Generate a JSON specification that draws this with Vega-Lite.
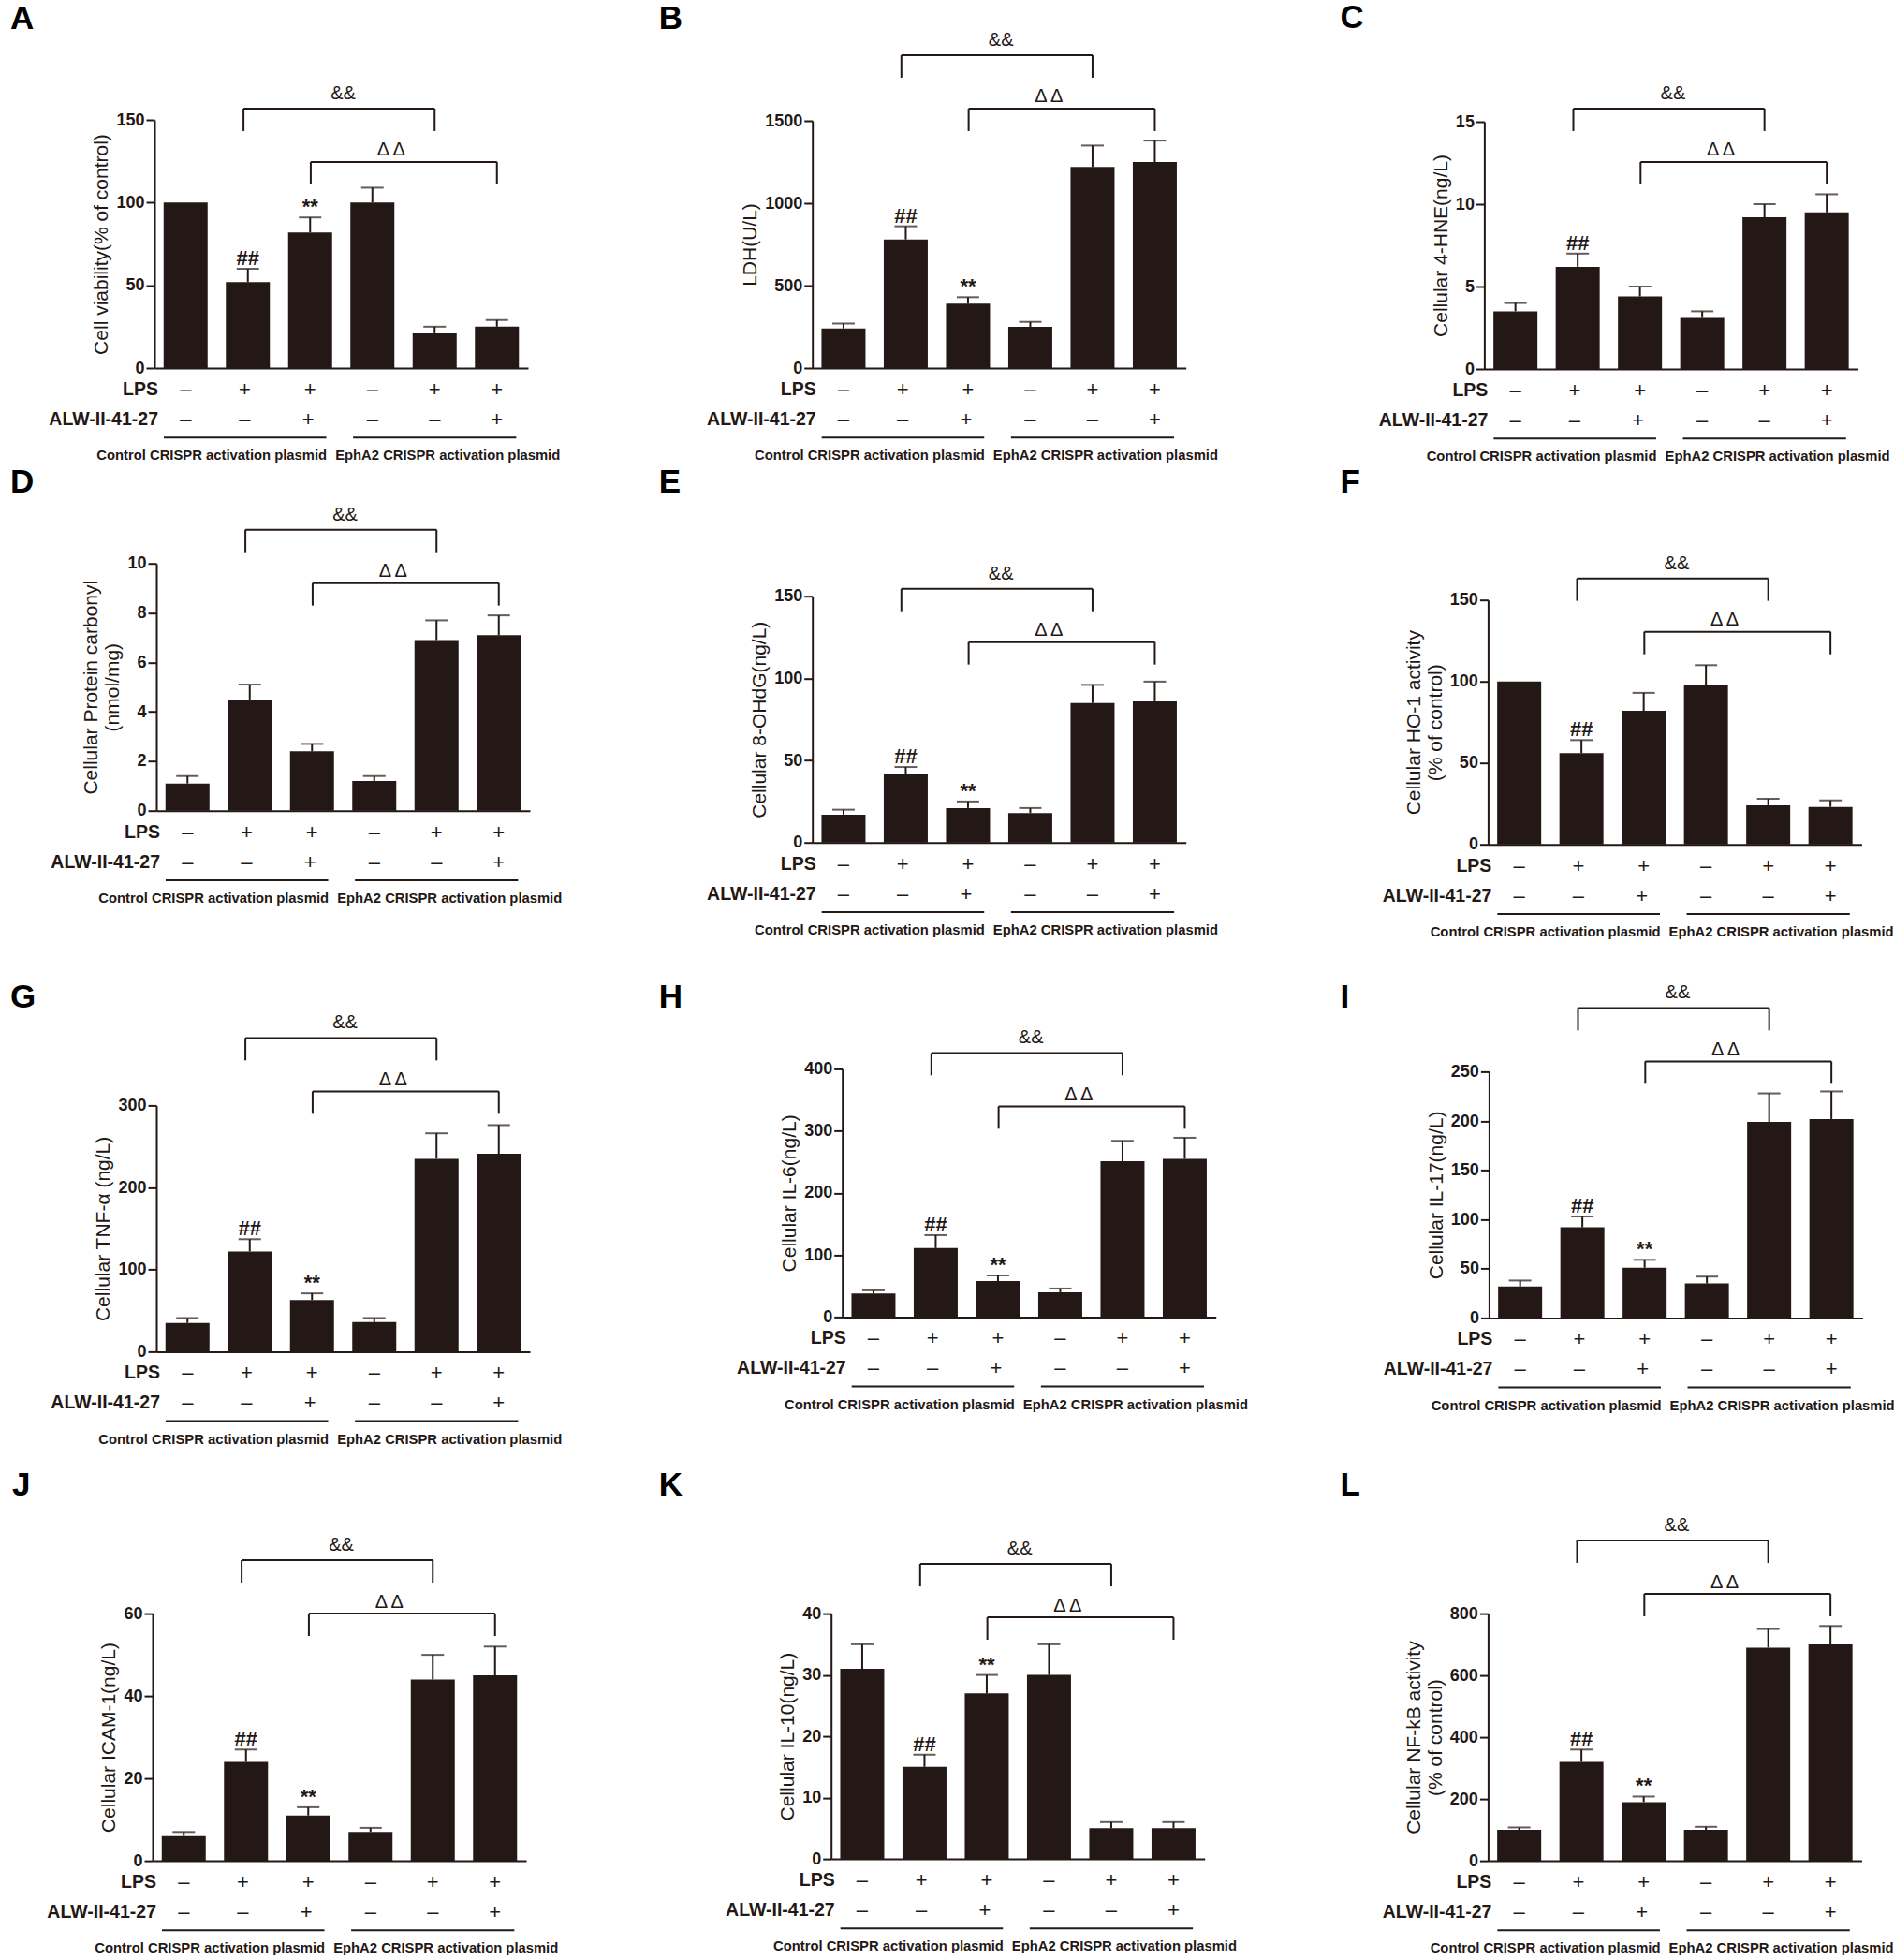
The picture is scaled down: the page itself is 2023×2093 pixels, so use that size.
{"$schema":"https://vega.github.io/schema/vega-lite/v6.json","padding":0,"background":"white","columns":3,"spacing":{"row":1.7,"column":2.7},"bounds":"flush",
"config":{"view":{"stroke":null},"axis":{"grid":false,"domainColor":"#231815","domainWidth":2,"tickColor":"#231815","tickWidth":2,"tickSize":9,"labelFont":"Liberation Sans","labelFontSize":18,"labelFontWeight":"bold","labelColor":"#231815","labelPadding":2,"titleFont":"Liberation Sans","titleFontSize":21,"titleFontWeight":"normal","titleColor":"#231815","titlePadding":5},"title":{"anchor":"start","frame":"group","font":"Liberation Sans","fontSize":35,"fontWeight":"bold","baseline":"middle","offset":0,"color":"#000000"},"bar":{"size":47,"color":"#231815"},"rule":{"color":"#231815","strokeWidth":2},"tick":{"color":"#231815","thickness":2,"size":24},"text":{"font":"Liberation Sans","color":"#231815"}},
"datasets":{
"signs":[{"g":1,"row":1,"t":"–"},{"g":1.95,"row":1,"t":"+"},{"g":3,"row":1,"t":"+"},{"g":4,"row":1,"t":"–"},{"g":5,"row":1,"t":"+"},{"g":6,"row":1,"t":"+"},{"g":1,"row":2,"t":"–"},{"g":1.95,"row":2,"t":"–"},{"g":2.97,"row":2,"t":"+"},{"g":4,"row":2,"t":"–"},{"g":5,"row":2,"t":"–"},{"g":6,"row":2,"t":"+"}],
"labels":[{"g":0.56,"row":1,"t":"LPS"},{"g":0.56,"row":2,"t":"ALW-II-41-27"}],
"plasmids":[{"g":1.42,"row":3.23,"t":"Control CRISPR activation plasmid"},{"g":5.21,"row":3.23,"t":"EphA2 CRISPR activation plasmid"}],
"lines":[{"g":0.65,"g2":3.26,"row":2.6},{"g":3.69,"g2":6.31,"row":2.6}],
"segs":[{"g":1.93,"g2":5,"l":0,"l2":0},{"g":1.93,"g2":1.93,"l":0,"l2":0.42},{"g":5,"g2":5,"l":0,"l2":0.42},{"g":3.01,"g2":6,"l":1,"l2":1},{"g":3.01,"g2":3.01,"l":1,"l2":1.42},{"g":6,"g2":6,"l":1,"l2":1.42}],
"brl":[{"g":3.53,"l":-0.28,"t":"&&"},{"g":4.3,"l":0.78,"t":"Δ Δ"}]
},
"concat":[
{"title":{"text":"A","dx":11,"dy":42},"width":674,"height":523,"data":{"values":[{"g":1,"v":100},{"g":2,"v":52,"e":60,"s":"##"},{"g":3,"v":82,"e":91,"s":"**"},{"g":4,"v":100,"e":109},{"g":5,"v":21,"e":25},{"g":6,"v":25,"e":29}]},"encoding":{"x":{"field":"g","type":"quantitative","title":null,"scale":{"domain":[0.5,6.5],"range":[165,564],"nice":false,"padding":0},"axis":{"offset":-130,"labels":false,"ticks":false,"title":null}}},"layer":[{"encoding":{"y":{"field":"v","type":"quantitative","scale":{"domain":[0,150],"range":[393,128],"nice":false},"axis":{"title":"Cell viability(% of control)","values":[0,50,100,150],"offset":-165,"orient":"left"}}},"layer":[{"mark":{"type":"bar","orient":"vertical"}},{"mark":"rule","encoding":{"y":{"field":"e"},"y2":{"field":"v"}}},{"mark":{"type":"tick","orient":"horizontal"},"encoding":{"y":{"field":"e"}}},{"transform":[{"filter":"datum.s"}],"mark":{"type":"text","baseline":"bottom","dy":1,"fontSize":22,"fontWeight":"bold"},"encoding":{"y":{"field":"e"},"text":{"field":"s"}}}]},{"encoding":{"y":{"field":"row","type":"quantitative","scale":{"domain":[0,4],"range":[384,512],"nice":false},"axis":null},"text":{"field":"t"}},"layer":[{"data":{"name":"signs"},"mark":{"type":"text","fontSize":22}},{"data":{"name":"labels"},"mark":{"type":"text","align":"right","fontSize":19.5,"fontWeight":"bold"}},{"data":{"name":"plasmids"},"mark":{"type":"text","fontSize":14.8,"fontWeight":"bold"}},{"data":{"name":"lines"},"mark":"rule","encoding":{"x2":{"field":"g2"},"text":null}}]},{"encoding":{"y":{"field":"l","type":"quantitative","scale":{"domain":[0,1],"range":[116,173],"nice":false},"axis":null}},"layer":[{"data":{"name":"segs"},"mark":"rule","encoding":{"x2":{"field":"g2"},"y2":{"field":"l2"}}},{"data":{"name":"brl"},"mark":{"type":"text","fontSize":20},"encoding":{"text":{"field":"t"}}}]}],"resolve":{"scale":{"y":"independent"}}},
{"title":{"text":"B","dx":27,"dy":42},"width":674,"height":523,"data":{"values":[{"g":1,"v":240,"e":270},{"g":2,"v":780,"e":860,"s":"##"},{"g":3,"v":390,"e":430,"s":"**"},{"g":4,"v":250,"e":280},{"g":5,"v":1220,"e":1350},{"g":6,"v":1250,"e":1380}]},"encoding":{"x":{"field":"g","type":"quantitative","title":null,"scale":{"domain":[0.5,6.5],"range":[191,590],"nice":false,"padding":0},"axis":{"offset":-130,"labels":false,"ticks":false,"title":null}}},"layer":[{"encoding":{"y":{"field":"v","type":"quantitative","scale":{"domain":[0,1500],"range":[393,129],"nice":false},"axis":{"title":"LDH(U/L)","values":[0,500,1000,1500],"format":"d","offset":-191,"orient":"left"}}},"layer":[{"mark":{"type":"bar","orient":"vertical"}},{"mark":"rule","encoding":{"y":{"field":"e"},"y2":{"field":"v"}}},{"mark":{"type":"tick","orient":"horizontal"},"encoding":{"y":{"field":"e"}}},{"transform":[{"filter":"datum.s"}],"mark":{"type":"text","baseline":"bottom","dy":1,"fontSize":22,"fontWeight":"bold"},"encoding":{"y":{"field":"e"},"text":{"field":"s"}}}]},{"encoding":{"y":{"field":"row","type":"quantitative","scale":{"domain":[0,4],"range":[384,512],"nice":false},"axis":null},"text":{"field":"t"}},"layer":[{"data":{"name":"signs"},"mark":{"type":"text","fontSize":22}},{"data":{"name":"labels"},"mark":{"type":"text","align":"right","fontSize":19.5,"fontWeight":"bold"}},{"data":{"name":"plasmids"},"mark":{"type":"text","fontSize":14.8,"fontWeight":"bold"}},{"data":{"name":"lines"},"mark":"rule","encoding":{"x2":{"field":"g2"},"text":null}}]},{"encoding":{"y":{"field":"l","type":"quantitative","scale":{"domain":[0,1],"range":[59,116],"nice":false},"axis":null}},"layer":[{"data":{"name":"segs"},"mark":"rule","encoding":{"x2":{"field":"g2"},"y2":{"field":"l2"}}},{"data":{"name":"brl"},"mark":{"type":"text","fontSize":20},"encoding":{"text":{"field":"t"}}}]}],"resolve":{"scale":{"y":"independent"}}},
{"title":{"text":"C","dx":78,"dy":41},"width":668,"height":523,"data":{"values":[{"g":1,"v":3.5,"e":4.0},{"g":2,"v":6.2,"e":7.0,"s":"##"},{"g":3,"v":4.4,"e":5.0},{"g":4,"v":3.1,"e":3.5},{"g":5,"v":9.2,"e":10.0},{"g":6,"v":9.5,"e":10.6}]},"encoding":{"x":{"field":"g","type":"quantitative","title":null,"scale":{"domain":[0.5,6.5],"range":[232,631],"nice":false,"padding":0},"axis":{"offset":-129,"labels":false,"ticks":false,"title":null}}},"layer":[{"encoding":{"y":{"field":"v","type":"quantitative","scale":{"domain":[0,15],"range":[394,130],"nice":false},"axis":{"title":"Cellular 4-HNE(ng/L)","values":[0,5,10,15],"offset":-232,"orient":"left"}}},"layer":[{"mark":{"type":"bar","orient":"vertical"}},{"mark":"rule","encoding":{"y":{"field":"e"},"y2":{"field":"v"}}},{"mark":{"type":"tick","orient":"horizontal"},"encoding":{"y":{"field":"e"}}},{"transform":[{"filter":"datum.s"}],"mark":{"type":"text","baseline":"bottom","dy":1,"fontSize":22,"fontWeight":"bold"},"encoding":{"y":{"field":"e"},"text":{"field":"s"}}}]},{"encoding":{"y":{"field":"row","type":"quantitative","scale":{"domain":[0,4],"range":[385,513],"nice":false},"axis":null},"text":{"field":"t"}},"layer":[{"data":{"name":"signs"},"mark":{"type":"text","fontSize":22}},{"data":{"name":"labels"},"mark":{"type":"text","align":"right","fontSize":19.5,"fontWeight":"bold"}},{"data":{"name":"plasmids"},"mark":{"type":"text","fontSize":14.8,"fontWeight":"bold"}},{"data":{"name":"lines"},"mark":"rule","encoding":{"x2":{"field":"g2"},"text":null}}]},{"encoding":{"y":{"field":"l","type":"quantitative","scale":{"domain":[0,1],"range":[116,173],"nice":false},"axis":null}},"layer":[{"data":{"name":"segs"},"mark":"rule","encoding":{"x2":{"field":"g2"},"y2":{"field":"l2"}}},{"data":{"name":"brl"},"mark":{"type":"text","fontSize":20},"encoding":{"text":{"field":"t"}}}]}],"resolve":{"scale":{"y":"independent"}}},
{"title":{"text":"D","dx":11,"dy":12},"width":674,"height":523,"data":{"values":[{"g":1,"v":1.1,"e":1.4},{"g":2,"v":4.5,"e":5.1},{"g":3,"v":2.4,"e":2.7},{"g":4,"v":1.2,"e":1.4},{"g":5,"v":6.9,"e":7.7},{"g":6,"v":7.1,"e":7.9}]},"encoding":{"x":{"field":"g","type":"quantitative","title":null,"scale":{"domain":[0.5,6.5],"range":[167,566],"nice":false,"padding":0},"axis":{"offset":-182,"labels":false,"ticks":false,"title":null}}},"layer":[{"encoding":{"y":{"field":"v","type":"quantitative","scale":{"domain":[0,10],"range":[341,77],"nice":false},"axis":{"title":["Cellular Protein carbonyl","(nmol/mg)"],"values":[0,2,4,6,8,10],"offset":-167,"orient":"left"}}},"layer":[{"mark":{"type":"bar","orient":"vertical"}},{"mark":"rule","encoding":{"y":{"field":"e"},"y2":{"field":"v"}}},{"mark":{"type":"tick","orient":"horizontal"},"encoding":{"y":{"field":"e"}}},{"transform":[{"filter":"datum.s"}],"mark":{"type":"text","baseline":"bottom","dy":1,"fontSize":22,"fontWeight":"bold"},"encoding":{"y":{"field":"e"},"text":{"field":"s"}}}]},{"encoding":{"y":{"field":"row","type":"quantitative","scale":{"domain":[0,4],"range":[332,460],"nice":false},"axis":null},"text":{"field":"t"}},"layer":[{"data":{"name":"signs"},"mark":{"type":"text","fontSize":22}},{"data":{"name":"labels"},"mark":{"type":"text","align":"right","fontSize":19.5,"fontWeight":"bold"}},{"data":{"name":"plasmids"},"mark":{"type":"text","fontSize":14.8,"fontWeight":"bold"}},{"data":{"name":"lines"},"mark":"rule","encoding":{"x2":{"field":"g2"},"text":null}}]},{"encoding":{"y":{"field":"l","type":"quantitative","scale":{"domain":[0,1],"range":[41,98],"nice":false},"axis":null}},"layer":[{"data":{"name":"segs"},"mark":"rule","encoding":{"x2":{"field":"g2"},"y2":{"field":"l2"}}},{"data":{"name":"brl"},"mark":{"type":"text","fontSize":20},"encoding":{"text":{"field":"t"}}}]}],"resolve":{"scale":{"y":"independent"}}},
{"title":{"text":"E","dx":27,"dy":12},"width":674,"height":523,"data":{"values":[{"g":1,"v":17,"e":20},{"g":2,"v":42,"e":46,"s":"##"},{"g":3,"v":21,"e":25,"s":"**"},{"g":4,"v":18,"e":21},{"g":5,"v":85,"e":96},{"g":6,"v":86,"e":98}]},"encoding":{"x":{"field":"g","type":"quantitative","title":null,"scale":{"domain":[0.5,6.5],"range":[191,590],"nice":false,"padding":0},"axis":{"offset":-148,"labels":false,"ticks":false,"title":null}}},"layer":[{"encoding":{"y":{"field":"v","type":"quantitative","scale":{"domain":[0,150],"range":[375,112],"nice":false},"axis":{"title":"Cellular 8-OHdG(ng/L)","values":[0,50,100,150],"offset":-191,"orient":"left"}}},"layer":[{"mark":{"type":"bar","orient":"vertical"}},{"mark":"rule","encoding":{"y":{"field":"e"},"y2":{"field":"v"}}},{"mark":{"type":"tick","orient":"horizontal"},"encoding":{"y":{"field":"e"}}},{"transform":[{"filter":"datum.s"}],"mark":{"type":"text","baseline":"bottom","dy":1,"fontSize":22,"fontWeight":"bold"},"encoding":{"y":{"field":"e"},"text":{"field":"s"}}}]},{"encoding":{"y":{"field":"row","type":"quantitative","scale":{"domain":[0,4],"range":[366,494],"nice":false},"axis":null},"text":{"field":"t"}},"layer":[{"data":{"name":"signs"},"mark":{"type":"text","fontSize":22}},{"data":{"name":"labels"},"mark":{"type":"text","align":"right","fontSize":19.5,"fontWeight":"bold"}},{"data":{"name":"plasmids"},"mark":{"type":"text","fontSize":14.8,"fontWeight":"bold"}},{"data":{"name":"lines"},"mark":"rule","encoding":{"x2":{"field":"g2"},"text":null}}]},{"encoding":{"y":{"field":"l","type":"quantitative","scale":{"domain":[0,1],"range":[104,161],"nice":false},"axis":null}},"layer":[{"data":{"name":"segs"},"mark":"rule","encoding":{"x2":{"field":"g2"},"y2":{"field":"l2"}}},{"data":{"name":"brl"},"mark":{"type":"text","fontSize":20},"encoding":{"text":{"field":"t"}}}]}],"resolve":{"scale":{"y":"independent"}}},
{"title":{"text":"F","dx":78,"dy":12},"width":668,"height":523,"data":{"values":[{"g":1,"v":100},{"g":2,"v":56,"e":64,"s":"##"},{"g":3,"v":82,"e":93},{"g":4,"v":98,"e":110},{"g":5,"v":24,"e":28},{"g":6,"v":23,"e":27}]},"encoding":{"x":{"field":"g","type":"quantitative","title":null,"scale":{"domain":[0.5,6.5],"range":[236,635],"nice":false,"padding":0},"axis":{"offset":-146,"labels":false,"ticks":false,"title":null}}},"layer":[{"encoding":{"y":{"field":"v","type":"quantitative","scale":{"domain":[0,150],"range":[377,116],"nice":false},"axis":{"title":["Cellular HO-1 activity","(% of control)"],"values":[0,50,100,150],"offset":-236,"orient":"left"}}},"layer":[{"mark":{"type":"bar","orient":"vertical"}},{"mark":"rule","encoding":{"y":{"field":"e"},"y2":{"field":"v"}}},{"mark":{"type":"tick","orient":"horizontal"},"encoding":{"y":{"field":"e"}}},{"transform":[{"filter":"datum.s"}],"mark":{"type":"text","baseline":"bottom","dy":1,"fontSize":22,"fontWeight":"bold"},"encoding":{"y":{"field":"e"},"text":{"field":"s"}}}]},{"encoding":{"y":{"field":"row","type":"quantitative","scale":{"domain":[0,4],"range":[368,496],"nice":false},"axis":null},"text":{"field":"t"}},"layer":[{"data":{"name":"signs"},"mark":{"type":"text","fontSize":22}},{"data":{"name":"labels"},"mark":{"type":"text","align":"right","fontSize":19.5,"fontWeight":"bold"}},{"data":{"name":"plasmids"},"mark":{"type":"text","fontSize":14.8,"fontWeight":"bold"}},{"data":{"name":"lines"},"mark":"rule","encoding":{"x2":{"field":"g2"},"text":null}}]},{"encoding":{"y":{"field":"l","type":"quantitative","scale":{"domain":[0,1],"range":[93,150],"nice":false},"axis":null}},"layer":[{"data":{"name":"segs"},"mark":"rule","encoding":{"x2":{"field":"g2"},"y2":{"field":"l2"}}},{"data":{"name":"brl"},"mark":{"type":"text","fontSize":20},"encoding":{"text":{"field":"t"}}}]}],"resolve":{"scale":{"y":"independent"}}},
{"title":{"text":"G","dx":11,"dy":38},"width":674,"height":523,"data":{"values":[{"g":1,"v":35,"e":41},{"g":2,"v":122,"e":137,"s":"##"},{"g":3,"v":63,"e":71,"s":"**"},{"g":4,"v":36,"e":41},{"g":5,"v":235,"e":266},{"g":6,"v":241,"e":276}]},"encoding":{"x":{"field":"g","type":"quantitative","title":null,"scale":{"domain":[0.5,6.5],"range":[167,566],"nice":false,"padding":0},"axis":{"offset":-129,"labels":false,"ticks":false,"title":null}}},"layer":[{"encoding":{"y":{"field":"v","type":"quantitative","scale":{"domain":[0,300],"range":[394,131],"nice":false},"axis":{"title":"Cellular TNF-α (ng/L)","values":[0,100,200,300],"offset":-167,"orient":"left"}}},"layer":[{"mark":{"type":"bar","orient":"vertical"}},{"mark":"rule","encoding":{"y":{"field":"e"},"y2":{"field":"v"}}},{"mark":{"type":"tick","orient":"horizontal"},"encoding":{"y":{"field":"e"}}},{"transform":[{"filter":"datum.s"}],"mark":{"type":"text","baseline":"bottom","dy":1,"fontSize":22,"fontWeight":"bold"},"encoding":{"y":{"field":"e"},"text":{"field":"s"}}}]},{"encoding":{"y":{"field":"row","type":"quantitative","scale":{"domain":[0,4],"range":[385,513],"nice":false},"axis":null},"text":{"field":"t"}},"layer":[{"data":{"name":"signs"},"mark":{"type":"text","fontSize":22}},{"data":{"name":"labels"},"mark":{"type":"text","align":"right","fontSize":19.5,"fontWeight":"bold"}},{"data":{"name":"plasmids"},"mark":{"type":"text","fontSize":14.8,"fontWeight":"bold"}},{"data":{"name":"lines"},"mark":"rule","encoding":{"x2":{"field":"g2"},"text":null}}]},{"encoding":{"y":{"field":"l","type":"quantitative","scale":{"domain":[0,1],"range":[59,116],"nice":false},"axis":null}},"layer":[{"data":{"name":"segs"},"mark":"rule","encoding":{"x2":{"field":"g2"},"y2":{"field":"l2"}}},{"data":{"name":"brl"},"mark":{"type":"text","fontSize":20},"encoding":{"text":{"field":"t"}}}]}],"resolve":{"scale":{"y":"independent"}}},
{"title":{"text":"H","dx":27,"dy":38},"width":674,"height":523,"data":{"values":[{"g":1,"v":38,"e":43},{"g":2,"v":111,"e":132,"s":"##"},{"g":3,"v":58,"e":67,"s":"**"},{"g":4,"v":40,"e":46},{"g":5,"v":251,"e":284},{"g":6,"v":255,"e":289}]},"encoding":{"x":{"field":"g","type":"quantitative","title":null,"scale":{"domain":[0.5,6.5],"range":[223,622],"nice":false,"padding":0},"axis":{"offset":-166,"labels":false,"ticks":false,"title":null}}},"layer":[{"encoding":{"y":{"field":"v","type":"quantitative","scale":{"domain":[0,400],"range":[357,92],"nice":false},"axis":{"title":"Cellular IL-6(ng/L)","values":[0,100,200,300,400],"offset":-223,"orient":"left"}}},"layer":[{"mark":{"type":"bar","orient":"vertical"}},{"mark":"rule","encoding":{"y":{"field":"e"},"y2":{"field":"v"}}},{"mark":{"type":"tick","orient":"horizontal"},"encoding":{"y":{"field":"e"}}},{"transform":[{"filter":"datum.s"}],"mark":{"type":"text","baseline":"bottom","dy":1,"fontSize":22,"fontWeight":"bold"},"encoding":{"y":{"field":"e"},"text":{"field":"s"}}}]},{"encoding":{"y":{"field":"row","type":"quantitative","scale":{"domain":[0,4],"range":[348,476],"nice":false},"axis":null},"text":{"field":"t"}},"layer":[{"data":{"name":"signs"},"mark":{"type":"text","fontSize":22}},{"data":{"name":"labels"},"mark":{"type":"text","align":"right","fontSize":19.5,"fontWeight":"bold"}},{"data":{"name":"plasmids"},"mark":{"type":"text","fontSize":14.8,"fontWeight":"bold"}},{"data":{"name":"lines"},"mark":"rule","encoding":{"x2":{"field":"g2"},"text":null}}]},{"encoding":{"y":{"field":"l","type":"quantitative","scale":{"domain":[0,1],"range":[75,132],"nice":false},"axis":null}},"layer":[{"data":{"name":"segs"},"mark":"rule","encoding":{"x2":{"field":"g2"},"y2":{"field":"l2"}}},{"data":{"name":"brl"},"mark":{"type":"text","fontSize":20},"encoding":{"text":{"field":"t"}}}]}],"resolve":{"scale":{"y":"independent"}}},
{"title":{"text":"I","dx":78,"dy":38},"width":668,"height":523,"data":{"values":[{"g":1,"v":32,"e":38},{"g":2,"v":92,"e":103,"s":"##"},{"g":3,"v":51,"e":59,"s":"**"},{"g":4,"v":35,"e":42},{"g":5,"v":199,"e":228},{"g":6,"v":202,"e":230}]},"encoding":{"x":{"field":"g","type":"quantitative","title":null,"scale":{"domain":[0.5,6.5],"range":[237,636],"nice":false,"padding":0},"axis":{"offset":-165,"labels":false,"ticks":false,"title":null}}},"layer":[{"encoding":{"y":{"field":"v","type":"quantitative","scale":{"domain":[0,250],"range":[358,95],"nice":false},"axis":{"title":"Cellular IL-17(ng/L)","values":[0,50,100,150,200,250],"offset":-237,"orient":"left"}}},"layer":[{"mark":{"type":"bar","orient":"vertical"}},{"mark":"rule","encoding":{"y":{"field":"e"},"y2":{"field":"v"}}},{"mark":{"type":"tick","orient":"horizontal"},"encoding":{"y":{"field":"e"}}},{"transform":[{"filter":"datum.s"}],"mark":{"type":"text","baseline":"bottom","dy":1,"fontSize":22,"fontWeight":"bold"},"encoding":{"y":{"field":"e"},"text":{"field":"s"}}}]},{"encoding":{"y":{"field":"row","type":"quantitative","scale":{"domain":[0,4],"range":[349,477],"nice":false},"axis":null},"text":{"field":"t"}},"layer":[{"data":{"name":"signs"},"mark":{"type":"text","fontSize":22}},{"data":{"name":"labels"},"mark":{"type":"text","align":"right","fontSize":19.5,"fontWeight":"bold"}},{"data":{"name":"plasmids"},"mark":{"type":"text","fontSize":14.8,"fontWeight":"bold"}},{"data":{"name":"lines"},"mark":"rule","encoding":{"x2":{"field":"g2"},"text":null}}]},{"encoding":{"y":{"field":"l","type":"quantitative","scale":{"domain":[0,1],"range":[27,84],"nice":false},"axis":null}},"layer":[{"data":{"name":"segs"},"mark":"rule","encoding":{"x2":{"field":"g2"},"y2":{"field":"l2"}}},{"data":{"name":"brl"},"mark":{"type":"text","fontSize":20},"encoding":{"text":{"field":"t"}}}]}],"resolve":{"scale":{"y":"independent"}}},
{"title":{"text":"J","dx":13,"dy":34},"width":674,"height":518,"data":{"values":[{"g":1,"v":6,"e":7},{"g":2,"v":24,"e":27,"s":"##"},{"g":3,"v":11,"e":13,"s":"**"},{"g":4,"v":7,"e":8},{"g":5,"v":44,"e":50},{"g":6,"v":45,"e":52}]},"encoding":{"x":{"field":"g","type":"quantitative","title":null,"scale":{"domain":[0.5,6.5],"range":[163,562],"nice":false,"padding":0},"axis":{"offset":-105,"labels":false,"ticks":false,"title":null}}},"layer":[{"encoding":{"y":{"field":"v","type":"quantitative","scale":{"domain":[0,60],"range":[413,149],"nice":false},"axis":{"title":"Cellular ICAM-1(ng/L)","values":[0,20,40,60],"offset":-163,"orient":"left"}}},"layer":[{"mark":{"type":"bar","orient":"vertical"}},{"mark":"rule","encoding":{"y":{"field":"e"},"y2":{"field":"v"}}},{"mark":{"type":"tick","orient":"horizontal"},"encoding":{"y":{"field":"e"}}},{"transform":[{"filter":"datum.s"}],"mark":{"type":"text","baseline":"bottom","dy":1,"fontSize":22,"fontWeight":"bold"},"encoding":{"y":{"field":"e"},"text":{"field":"s"}}}]},{"encoding":{"y":{"field":"row","type":"quantitative","scale":{"domain":[0,4],"range":[404,532],"nice":false},"axis":null},"text":{"field":"t"}},"layer":[{"data":{"name":"signs"},"mark":{"type":"text","fontSize":22}},{"data":{"name":"labels"},"mark":{"type":"text","align":"right","fontSize":19.5,"fontWeight":"bold"}},{"data":{"name":"plasmids"},"mark":{"type":"text","fontSize":14.8,"fontWeight":"bold"}},{"data":{"name":"lines"},"mark":"rule","encoding":{"x2":{"field":"g2"},"text":null}}]},{"encoding":{"y":{"field":"l","type":"quantitative","scale":{"domain":[0,1],"range":[92,149],"nice":false},"axis":null}},"layer":[{"data":{"name":"segs"},"mark":"rule","encoding":{"x2":{"field":"g2"},"y2":{"field":"l2"}}},{"data":{"name":"brl"},"mark":{"type":"text","fontSize":20},"encoding":{"text":{"field":"t"}}}]}],"resolve":{"scale":{"y":"independent"}}},
{"title":{"text":"K","dx":27,"dy":34},"width":674,"height":518,"data":{"values":[{"g":1,"v":31,"e":35},{"g":2,"v":15,"e":17,"s":"##"},{"g":3,"v":27,"e":30,"s":"**"},{"g":4,"v":30,"e":35},{"g":5,"v":5,"e":6},{"g":6,"v":5,"e":6}]},"encoding":{"x":{"field":"g","type":"quantitative","title":null,"scale":{"domain":[0.5,6.5],"range":[211,610],"nice":false,"padding":0},"axis":{"offset":-107,"labels":false,"ticks":false,"title":null}}},"layer":[{"encoding":{"y":{"field":"v","type":"quantitative","scale":{"domain":[0,40],"range":[411,149],"nice":false},"axis":{"title":"Cellular IL-10(ng/L)","values":[0,10,20,30,40],"offset":-211,"orient":"left"}}},"layer":[{"mark":{"type":"bar","orient":"vertical"}},{"mark":"rule","encoding":{"y":{"field":"e"},"y2":{"field":"v"}}},{"mark":{"type":"tick","orient":"horizontal"},"encoding":{"y":{"field":"e"}}},{"transform":[{"filter":"datum.s"}],"mark":{"type":"text","baseline":"bottom","dy":1,"fontSize":22,"fontWeight":"bold"},"encoding":{"y":{"field":"e"},"text":{"field":"s"}}}]},{"encoding":{"y":{"field":"row","type":"quantitative","scale":{"domain":[0,4],"range":[402,530],"nice":false},"axis":null},"text":{"field":"t"}},"layer":[{"data":{"name":"signs"},"mark":{"type":"text","fontSize":22}},{"data":{"name":"labels"},"mark":{"type":"text","align":"right","fontSize":19.5,"fontWeight":"bold"}},{"data":{"name":"plasmids"},"mark":{"type":"text","fontSize":14.8,"fontWeight":"bold"}},{"data":{"name":"lines"},"mark":"rule","encoding":{"x2":{"field":"g2"},"text":null}}]},{"encoding":{"y":{"field":"l","type":"quantitative","scale":{"domain":[0,1],"range":[96,153],"nice":false},"axis":null}},"layer":[{"data":{"name":"segs"},"mark":"rule","encoding":{"x2":{"field":"g2"},"y2":{"field":"l2"}}},{"data":{"name":"brl"},"mark":{"type":"text","fontSize":20},"encoding":{"text":{"field":"t"}}}]}],"resolve":{"scale":{"y":"independent"}}},
{"title":{"text":"L","dx":78,"dy":34},"width":668,"height":518,"data":{"values":[{"g":1,"v":100,"e":108},{"g":2,"v":320,"e":360,"s":"##"},{"g":3,"v":190,"e":208,"s":"**"},{"g":4,"v":100,"e":110},{"g":5,"v":690,"e":750},{"g":6,"v":700,"e":760}]},"encoding":{"x":{"field":"g","type":"quantitative","title":null,"scale":{"domain":[0.5,6.5],"range":[236,635],"nice":false,"padding":0},"axis":{"offset":-105,"labels":false,"ticks":false,"title":null}}},"layer":[{"encoding":{"y":{"field":"v","type":"quantitative","scale":{"domain":[0,800],"range":[413,149],"nice":false},"axis":{"title":["Cellular NF-kB activity","(% of control)"],"values":[0,200,400,600,800],"offset":-236,"orient":"left"}}},"layer":[{"mark":{"type":"bar","orient":"vertical"}},{"mark":"rule","encoding":{"y":{"field":"e"},"y2":{"field":"v"}}},{"mark":{"type":"tick","orient":"horizontal"},"encoding":{"y":{"field":"e"}}},{"transform":[{"filter":"datum.s"}],"mark":{"type":"text","baseline":"bottom","dy":1,"fontSize":22,"fontWeight":"bold"},"encoding":{"y":{"field":"e"},"text":{"field":"s"}}}]},{"encoding":{"y":{"field":"row","type":"quantitative","scale":{"domain":[0,4],"range":[404,532],"nice":false},"axis":null},"text":{"field":"t"}},"layer":[{"data":{"name":"signs"},"mark":{"type":"text","fontSize":22}},{"data":{"name":"labels"},"mark":{"type":"text","align":"right","fontSize":19.5,"fontWeight":"bold"}},{"data":{"name":"plasmids"},"mark":{"type":"text","fontSize":14.8,"fontWeight":"bold"}},{"data":{"name":"lines"},"mark":"rule","encoding":{"x2":{"field":"g2"},"text":null}}]},{"encoding":{"y":{"field":"l","type":"quantitative","scale":{"domain":[0,1],"range":[71,128],"nice":false},"axis":null}},"layer":[{"data":{"name":"segs"},"mark":"rule","encoding":{"x2":{"field":"g2"},"y2":{"field":"l2"}}},{"data":{"name":"brl"},"mark":{"type":"text","fontSize":20},"encoding":{"text":{"field":"t"}}}]}],"resolve":{"scale":{"y":"independent"}}}
]}
